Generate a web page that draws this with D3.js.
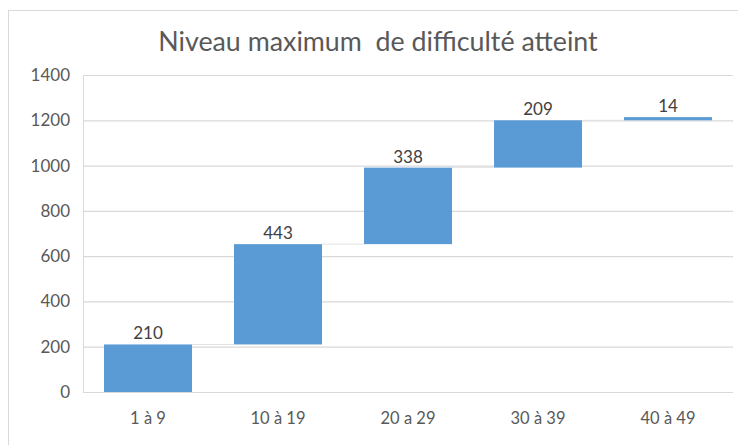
<!DOCTYPE html>
<html>
<head>
<meta charset="utf-8">
<script src="https://cdn.jsdelivr.net/npm/d3@7"></script>
<style>
  body { margin: 0; background: #fff; }
  text { font-family: Lato, "Open Sans", sans-serif; }
</style>
</head>
<body>
<div id="chart"></div>
<script>
//// DATA ////
var categories = ["1 à 9", "10 à 19", "20 a 29", "30 à 39", "40 à 49"];
var values = [210, 443, 338, 209, 14];
var yTicks = [0, 200, 400, 600, 800, 1000, 1200, 1400];
var chartTitle = "Niveau maximum  de difficulté atteint";

//// SET UP ////
var svgWidth = 738;
var svgHeight = 445;

var margin = { top: 75, right: 5, bottom: 53, left: 83 };

var svg = d3.select("#chart")
  .append("svg")
  .attr("width", svgWidth)
  .attr("height", svgHeight);

// chart border
svg.append("rect")
  .attr("x", 8.5)
  .attr("y", 10.5)
  .attr("width", svgWidth - 8)
  .attr("height", svgHeight)
  .attr("fill", "#fff")
  .attr("stroke", "#d9d9d9");

// running totals for the waterfall
var steps = [];
var total = 0;
values.forEach(function(v, i) {
  steps.push({ cat: categories[i], value: v, start: total, end: total + v });
  total += v;
});

var x = d3.scaleBand()
  .domain(categories)
  .range([margin.left, svgWidth - margin.right])
  .paddingInner(0.323)
  .paddingOuter(0.1615);

var y = d3.scaleLinear()
  .domain([0, 1400])
  .range([svgHeight - margin.bottom, margin.top]);

// gridlines + tick labels
var leftAxis = d3.axisLeft(y)
  .tickValues(yTicks)
  .tickFormat(d3.format("d"))
  .tickSize(-(svgWidth - margin.right - margin.left))
  .tickPadding(13);

var yAxis = svg.append("g")
  .attr("transform", `translate(${margin.left}, 0)`)
  .call(leftAxis);

yAxis.select(".domain").attr("stroke", "#d9d9d9");
yAxis.selectAll(".tick line").attr("stroke", "#d9d9d9").attr("stroke-width", 1.2);
yAxis.selectAll(".tick text")
  .attr("fill", "#595959")
  .style("font-size", "17px");

// faint connectors between steps
svg.selectAll(".connector")
  .data(steps.slice(0, -1))
  .enter()
  .append("line")
  .attr("x1", d => x(d.cat) + x.bandwidth())
  .attr("x2", (d, i) => x(categories[i + 1]))
  .attr("y1", d => y(d.end))
  .attr("y2", d => y(d.end))
  .attr("stroke", "#e3e3e3")
  .attr("stroke-width", 1);

// bars
svg.selectAll(".bar")
  .data(steps)
  .enter()
  .append("rect")
  .attr("x", d => x(d.cat))
  .attr("y", d => y(d.end))
  .attr("width", x.bandwidth())
  .attr("height", d => y(d.start) - y(d.end))
  .attr("fill", "#5b9bd5");

// data labels
svg.selectAll(".label")
  .data(steps)
  .enter()
  .append("text")
  .attr("x", d => x(d.cat) + x.bandwidth() / 2)
  .attr("y", d => y(d.end) - 5)
  .attr("text-anchor", "middle")
  .attr("fill", "#404040")
  .style("font-size", "17px")
  .text(d => d.value);

// category labels
svg.selectAll(".cat")
  .data(categories)
  .enter()
  .append("text")
  .attr("x", d => x(d) + x.bandwidth() / 2)
  .attr("y", svgHeight - margin.bottom + 32)
  .attr("text-anchor", "middle")
  .attr("fill", "#595959")
  .style("font-size", "16.5px")
  .text(d => d);

// title
svg.append("text")
  .attr("x", 378)
  .attr("y", 51)
  .attr("text-anchor", "middle")
  .attr("fill", "#595959")
  .style("font-size", "26.8px")
  .style("white-space", "pre")
  .text(chartTitle);
</script>
</body>
</html>
